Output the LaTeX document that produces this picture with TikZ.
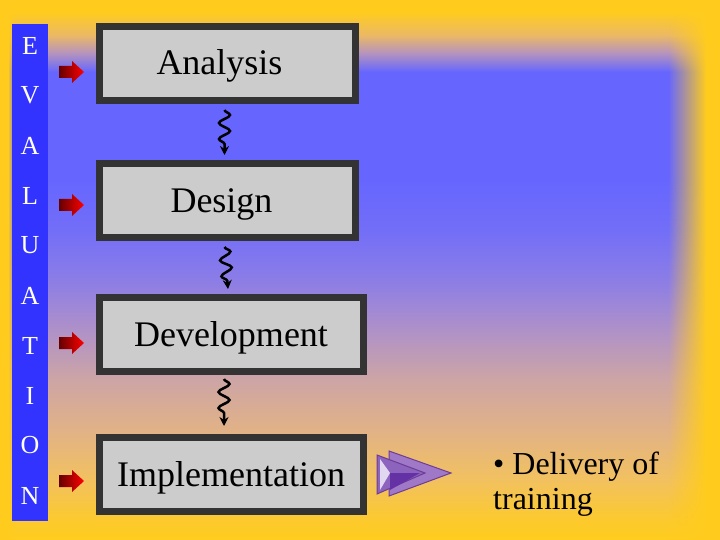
\documentclass[tikz,border=0pt]{standalone}
\usepackage{fontspec}
\setmainfont{Liberation Serif}
\usetikzlibrary{arrows.meta,decorations.pathmorphing,fadings,positioning}

\definecolor{bgyellow}{RGB}{255,204,30}
\definecolor{bgA}{RGB}{252,202,45}
\definecolor{bgB}{RGB}{242,193,95}
\definecolor{bgC}{RGB}{225,178,135}
\definecolor{bgD}{RGB}{205,165,165}
\definecolor{bgE}{RGB}{175,145,200}
\definecolor{bgF}{RGB}{140,125,230}
\definecolor{bgG}{RGB}{115,110,248}
\definecolor{bgblue}{RGB}{102,102,255}
\definecolor{bgH}{RGB}{185,150,185}
\definecolor{bgI}{RGB}{235,185,100}
\definecolor{barblue}{RGB}{51,51,255}
\definecolor{boxgray}{RGB}{204,204,204}
\definecolor{boxborder}{RGB}{51,51,51}
\definecolor{purpleback}{RGB}{160,120,200}
\definecolor{purplefront}{RGB}{140,100,190}
\definecolor{purpleedge}{RGB}{110,60,150}
\definecolor{purplelight}{RGB}{225,215,240}
\definecolor{purpledark}{RGB}{100,50,165}

% slide background, bottom (25bp) to top (75bp)
\pgfdeclareverticalshading{slidebg}{100bp}{color(0bp)=(bgyellow); color(25bp)=(bgyellow);
  color(26.85bp)=(bgA); color(30.56bp)=(bgB); color(35.19bp)=(bgC); color(39.81bp)=(bgD);
  color(44.44bp)=(bgE); color(49.07bp)=(bgF); color(53.7bp)=(bgG); color(58.33bp)=(bgblue);
  color(68.33bp)=(bgblue); color(70.19bp)=(bgH); color(71.76bp)=(bgI); color(73.89bp)=(bgyellow);
  color(100bp)=(bgyellow)}
\tikzfading[name=fadeleft, left color=transparent!0, right color=transparent!100]
\tikzfading[name=faderight, left color=transparent!100, right color=transparent!0]

\begin{document}
\begin{tikzpicture}[x=1pt,y=-1pt,
    box/.style={draw=boxborder, fill=boxgray, line width=7pt, minimum height=74pt,
      inner sep=0pt, text height=28pt, text depth=5pt, font=\fontsize{36}{40}\selectfont},
    evletter/.style={text=white, inner sep=0pt, font=\fontsize{26}{28}\selectfont},
    squig/.style={line width=2.5pt, decorate, -{Stealth[length=9pt,width=9pt]},
      decoration={snake, amplitude=5.5pt, segment length=16pt, post length=8pt}}]
    \useasboundingbox (0,0) rectangle (720,540);
    % Background
    \shade[shading=slidebg] (0,0) rectangle (720,540);
    \fill[bgyellow] (0,0) rectangle (8,540);
    \fill[bgyellow, path fading=fadeleft] (8,0) rectangle (16,540);
    \fill[bgyellow, path fading=faderight] (668,0) rectangle (706,540);
    \fill[bgyellow] (706,0) rectangle (720,540);
    % Evaluation bar
    \fill[barblue] (12,24) rectangle (48,521);
    \foreach \l [count=\i] in {E,V,A,L,U,A,T,I,O,N}
        \node[evletter] (ev\i) at (30,{50*\i-4.5}) {\l};
    % Phases
    \node[box, minimum width=256pt] (ana) at (227.5,63.5) {Analysis\kern16pt};
    \node[box, minimum width=256pt] (des) at (227.5,200.5) {Design\kern12pt};
    \node[box, minimum width=264pt] (dev) at (231,334.5) {Development};
    \node[box, minimum width=264pt] (imp) at (231,474.5) {Implementation};
    % Red pointers
    \foreach \y in {72,205,343,481}
        \shade[left color=red!40!black, right color=red]
            (59,\y-6) -- (72,\y-6) -- (72,\y-11) -- (84,\y) -- (72,\y+11)
            -- (72,\y+6) -- (59,\y+6) -- cycle;
    % Squiggly links
    \draw[squig] ([xshift=-3pt,yshift=-6pt]ana.south) -- ([xshift=-3pt,yshift=5pt]des.north);
    \draw[squig] ([xshift=-3pt,yshift=-6pt]des.south) -- ([xshift=-3pt,yshift=5pt]dev.north);
    \draw[squig] ([xshift=-7pt,yshift=-4pt]dev.south) -- ([xshift=-7pt,yshift=8pt]imp.north);
    % Purple arrow
    \filldraw[fill=purpleback, draw=purpleedge, line width=1pt] (389,451) -- (451,473) -- (389,496) -- cycle;
    \filldraw[fill=purplefront, draw=purpleedge, line width=1pt] (377,455) -- (425,473) -- (377,494) -- cycle;
    \fill[purplelight] (380,459) -- (390,473) -- (380,490) -- cycle;
    \fill[purpledark] (390,473) -- (420,473) -- (390,490) -- cycle;
    % Delivery
    \node[anchor=north west, align=left, inner sep=0pt,
        font=\fontsize{32}{35}\selectfont] (deliv) at (493,452) {\textbullet{} Delivery of\\training};
\end{tikzpicture}
\end{document}
